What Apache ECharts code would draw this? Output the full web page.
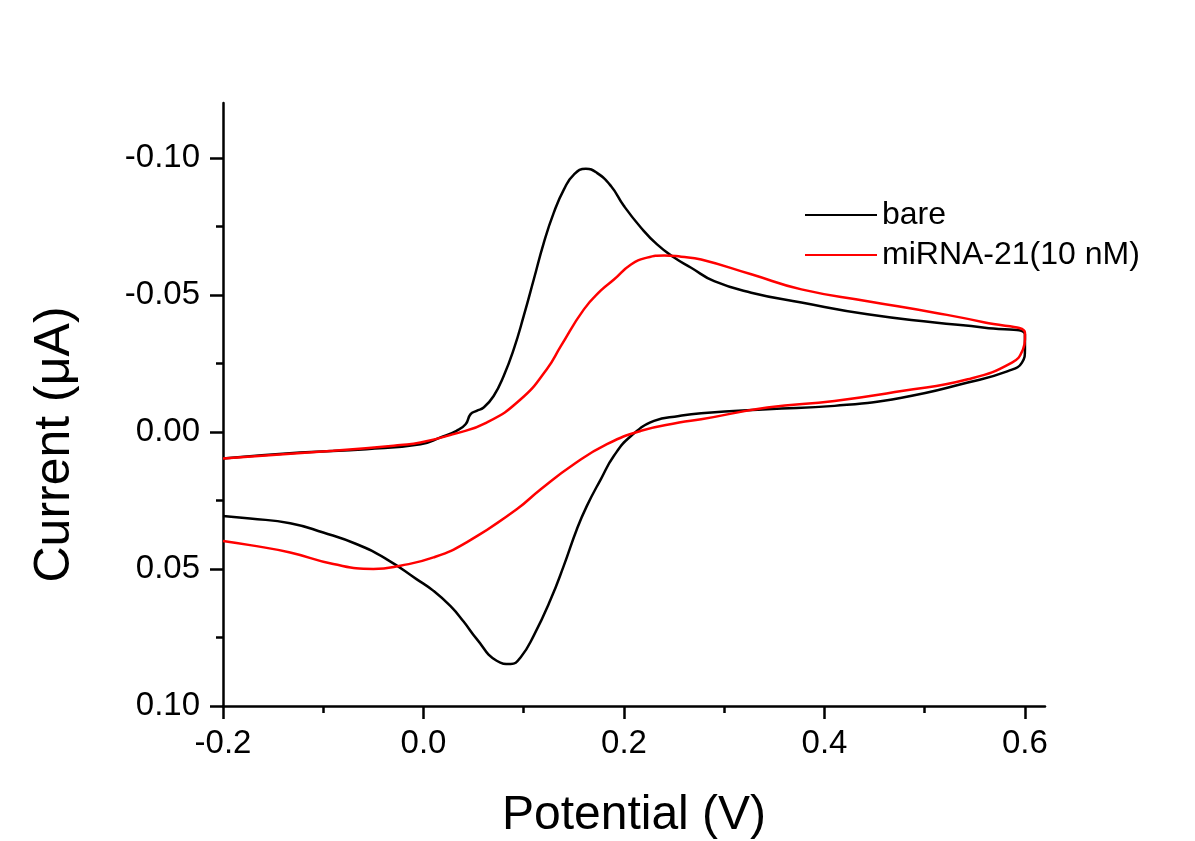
<!DOCTYPE html>
<html>
<head>
<meta charset="utf-8">
<script src="https://cdn.jsdelivr.net/npm/echarts@6/dist/echarts.min.js"></script>
<style>
  html, body { margin: 0; padding: 0; background: #ffffff; }
  #chart { width: 1195px; height: 841px; }
</style>
</head>
<body>
<div id="chart"></div>
<script>
// Potential (V) and current (µA), one closed CV loop per series
const bareE = [-0.200, -0.123, -0.057, -0.003, 0.017, 0.033, 0.042, 0.047, 0.053, 0.060, 0.070, 0.080, 0.090, 0.100, 0.110, 0.120, 0.130, 0.140, 0.150, 0.162, 0.173, 0.187, 0.200, 0.217, 0.233, 0.250, 0.267, 0.290, 0.327, 0.377, 0.443, 0.510, 0.560, 0.600,
               0.600, 0.597, 0.583, 0.543, 0.477, 0.410, 0.343, 0.277, 0.255, 0.230, 0.207, 0.190, 0.177, 0.163, 0.153, 0.140, 0.127, 0.110, 0.097, 0.087, 0.073, 0.053, 0.040, 0.027, 0.010, -0.007, -0.037, -0.067, -0.100, -0.133, -0.173, -0.200];
const bareI = [0.0097, 0.0075, 0.0063, 0.0045, 0.0020, -0.0004, -0.0028, -0.0065, -0.0077, -0.0089, -0.0131, -0.0204, -0.0301, -0.0423, -0.0556, -0.0690, -0.0800, -0.0884, -0.0939, -0.0960, -0.0945, -0.0897, -0.0824, -0.0745, -0.0684, -0.0636, -0.0599, -0.0550, -0.0508, -0.0472, -0.0429, -0.0399, -0.0380, -0.0356,
               -0.0301, -0.0253, -0.0222, -0.0180, -0.0125, -0.0095, -0.0083, -0.0068, -0.0058, -0.0040, 0.0015, 0.0087, 0.0172, 0.0270, 0.0355, 0.0488, 0.0610, 0.0743, 0.0822, 0.0847, 0.0835, 0.0755, 0.0692, 0.0636, 0.0580, 0.0537, 0.0464, 0.0409, 0.0367, 0.0333, 0.0316, 0.0307];
const mirE = [-0.200, -0.090, -0.023, -0.003, 0.030, 0.063, 0.097, 0.123, 0.137, 0.160, 0.177, 0.190, 0.207, 0.223, 0.240, 0.257, 0.277, 0.327, 0.377, 0.443, 0.510, 0.560, 0.600,
              0.600, 0.598, 0.587, 0.543, 0.477, 0.410, 0.343, 0.277, 0.255, 0.217, 0.183, 0.150, 0.117, 0.093, 0.043, 0.010, -0.023, -0.050, -0.090, -0.133, -0.173, -0.200];
const mirI = [0.0097, 0.0069, 0.0048, 0.0039, 0.0008, -0.0034, -0.0119, -0.0229, -0.0313, -0.0447, -0.0516, -0.0556, -0.0611, -0.0636, -0.0644, -0.0639, -0.0629, -0.0575, -0.0520, -0.0477, -0.0435, -0.0399, -0.0362,
              -0.0338, -0.0301, -0.0253, -0.0192, -0.0149, -0.0113, -0.0089, -0.0046, -0.0034, -0.0004, 0.0045, 0.0118, 0.0209, 0.0282, 0.0403, 0.0458, 0.0488, 0.0500, 0.0482, 0.0440, 0.0413, 0.0398];
const seriesNames = ['bare', 'miRNA-21(10 nM)'];
const xMajorTicks = [-0.2, 0.0, 0.2, 0.4, 0.6];
const xMinorTicks = [-0.1, 0.1, 0.3, 0.5];
const yMajorTicks = [-0.10, -0.05, 0.00, 0.05, 0.10];
const yMinorTicks = [-0.075, -0.025, 0.025, 0.075];

const FONT = '"Liberation Sans", Arial, sans-serif';
const pairs = (xs, ys) => xs.map((x, i) => [x, ys[i]]);

const chart = echarts.init(document.getElementById('chart'), null, { renderer: 'canvas' });
chart.setOption({
  backgroundColor: '#ffffff',
  animation: false,
  grid: { left: 223, right: 150, top: 103, bottom: 135, containLabel: false, outerBoundsMode: 'none' },
  legend: {
    orient: 'vertical', left: 800, top: 194,
    itemWidth: 72, itemHeight: 2, itemGap: 8, icon: 'rect',
    data: seriesNames,
    textStyle: { fontFamily: FONT, fontSize: 32, color: '#000' }
  },
  xAxis: [
    {
      type: 'value', min: -0.2, max: 0.62, position: 'bottom',
      name: 'Potential (V)', nameLocation: 'middle', nameGap: 86,
      nameTextStyle: { fontFamily: FONT, fontSize: 48, color: '#000' },
      axisLine: { show: true, onZero: false, lineStyle: { color: '#000', width: 2.5 } },
      axisTick: { show: true, inside: false, length: 13, customValues: xMajorTicks, lineStyle: { color: '#000', width: 2.5 } },
      axisLabel: { show: true, margin: 21, customValues: xMajorTicks, fontFamily: FONT, fontSize: 33, color: '#000',
                   formatter: v => v.toFixed(1) },
      splitLine: { show: false }
    },
    {
      type: 'value', min: -0.2, max: 0.62, position: 'bottom', gridIndex: 0,
      axisLine: { show: false, onZero: false },
      axisTick: { show: true, inside: false, length: 7, customValues: xMinorTicks, lineStyle: { color: '#000', width: 2.5 } },
      axisLabel: { show: false },
      splitLine: { show: false }
    }
  ],
  yAxis: [
    {
      type: 'value', min: -0.12, max: 0.10, inverse: true, position: 'left',
      name: 'Current (μA)', nameLocation: 'middle', nameGap: 143,
      nameTextStyle: { fontFamily: FONT, fontSize: 50, color: '#000', padding: [0, 80, 0, 0] },
      axisLine: { show: true, onZero: false, lineStyle: { color: '#000', width: 2.5 } },
      axisTick: { show: true, inside: false, length: 13, customValues: yMajorTicks, lineStyle: { color: '#000', width: 2.5 } },
      axisLabel: { show: true, margin: 23, customValues: yMajorTicks, fontFamily: FONT, fontSize: 33, color: '#000',
                   formatter: v => v.toFixed(2) },
      splitLine: { show: false }
    },
    {
      type: 'value', min: -0.12, max: 0.10, inverse: true, position: 'left', gridIndex: 0,
      axisLine: { show: false, onZero: false },
      axisTick: { show: true, inside: false, length: 7, customValues: yMinorTicks, lineStyle: { color: '#000', width: 2.5 } },
      axisLabel: { show: false },
      splitLine: { show: false }
    }
  ],
  series: [
    {
      name: seriesNames[0], type: 'line', xAxisIndex: 0, yAxisIndex: 0,
      data: pairs(bareE, bareI), symbol: 'none', showSymbol: false, smooth: 0.5,
      lineStyle: { color: '#000000', width: 2.5 }, itemStyle: { color: '#000000' }
    },
    {
      name: seriesNames[1], type: 'line', xAxisIndex: 0, yAxisIndex: 0,
      data: pairs(mirE, mirI), symbol: 'none', showSymbol: false, smooth: 0.5,
      lineStyle: { color: '#ff0000', width: 2.5 }, itemStyle: { color: '#ff0000' }
    }
  ]
});
</script>
</body>
</html>
